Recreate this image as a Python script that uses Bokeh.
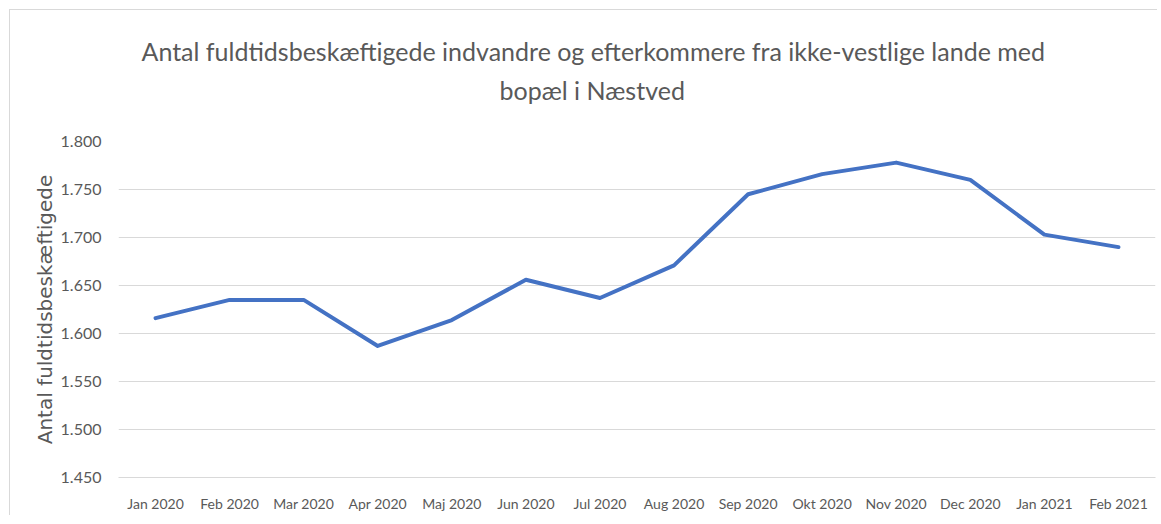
from bokeh.plotting import figure
from bokeh.models import Title, FixedTicker, CustomJSTickFormatter
from bokeh.embed import file_html
from bokeh.resources import INLINE

months = ["Jan 2020", "Feb 2020", "Mar 2020", "Apr 2020", "Maj 2020", "Jun 2020",
          "Jul 2020", "Aug 2020", "Sep 2020", "Okt 2020", "Nov 2020", "Dec 2020",
          "Jan 2021", "Feb 2021"]
employed = [1616, 1635, 1635, 1587, 1614, 1656, 1637, 1671, 1745, 1766, 1778, 1760, 1703, 1690]
y_ticks = [1450, 1500, 1550, 1600, 1650, 1700, 1750, 1800]
title_line1 = "Antal fuldtidsbeskæftigede indvandre og efterkommere fra ikke-vestlige lande med"
title_line2 = "bopæl i Næstved"
y_label = "Antal fuldtidsbeskæftigede"

FONT = "Lato"
GREY = "#595959"

p = figure(x_range=months, y_range=(y_ticks[0], y_ticks[-1]), width=1148, height=506,
           output_backend="svg", toolbar_location=None,
           min_border_left=108, min_border_right=3, min_border_bottom=39, min_border_top=131)

p.line(x=months, y=employed, line_color="#4472C4", line_width=4,
       line_join="round", line_cap="round")

t2 = Title(text=title_line2, align="left", offset=381, text_font=FONT, text_font_size="25px",
           text_color=GREY, text_font_style="normal", standoff=74)
try:
    t1 = Title(text=title_line1, align="left", offset=23, text_font=FONT, text_font_size="25px",
               text_color=GREY, text_font_style="normal", standoff=-60)
except Exception:
    t1 = Title(text=title_line1, align="left", offset=23, text_font=FONT, text_font_size="25px",
               text_color=GREY, text_font_style="normal", standoff=0)
p.add_layout(t2, "above")
p.add_layout(t1, "above")

p.yaxis.ticker = FixedTicker(ticks=y_ticks)
p.yaxis.formatter = CustomJSTickFormatter(
    code='return tick.toFixed(0).replace(/\\B(?=(\\d{3})+(?!\\d))/g, ".");')
p.yaxis.axis_label = y_label
p.yaxis.axis_label_text_font = "DejaVu Sans"
p.yaxis.axis_label_text_font_size = "20px"
p.yaxis.axis_label_text_font_style = "normal"
p.yaxis.axis_label_text_color = GREY
p.yaxis.axis_label_standoff = 1

for ax in (p.xaxis, p.yaxis):
    ax.major_label_text_font = FONT
    ax.major_label_text_color = GREY
    ax.major_tick_line_color = None
    ax.minor_tick_line_color = None
    ax.major_tick_out = 0
    ax.minor_tick_out = 0
    ax.axis_line_color = None
p.yaxis.major_label_text_font_size = "16px"
p.xaxis.major_label_text_font_size = "14px"
p.yaxis.major_label_standoff = 17
p.xaxis.major_label_standoff = 17
p.xaxis.axis_line_color = "#d9d9d9"

p.xgrid.grid_line_color = None
p.ygrid.grid_line_color = "#d9d9d9"
p.ygrid.grid_line_width = 1
p.outline_line_color = None
p.background_fill_color = "white"
p.border_fill_color = "white"
p.styles = {"margin-left": "9px", "margin-top": "9px",
            "border-top": "1px solid #d9d9d9", "border-left": "1px solid #d9d9d9"}

open("out.html", "w").write(file_html(p, INLINE))
